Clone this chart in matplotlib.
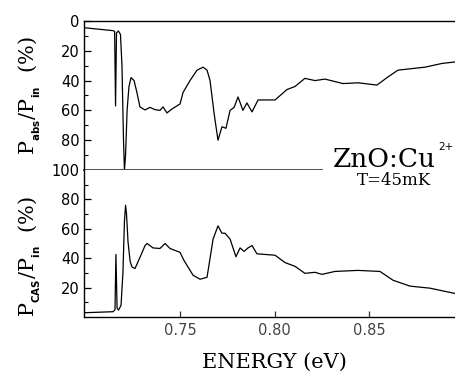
import matplotlib
matplotlib.use('Agg')
import matplotlib.pyplot as plt
from matplotlib.ticker import MultipleLocator

plt.rcParams['mathtext.fontset'] = 'custom'
plt.rcParams['mathtext.rm'] = 'DejaVu Serif'
plt.rcParams['mathtext.bf'] = 'DejaVu Sans:bold'

# absorbed power (top panel, inverted axis)
e_abs = [0.6992, 0.7146, 0.7154, 0.7159, 0.7164, 0.7174, 0.7185, 0.7193, 0.7201,
         0.7206, 0.7212, 0.7220, 0.7230, 0.7241, 0.7257, 0.7272, 0.7288, 0.7315,
         0.7341, 0.7368, 0.7394, 0.7410, 0.7431, 0.7458, 0.7500, 0.7516, 0.7553,
         0.7590, 0.7622, 0.7643, 0.7659, 0.7680, 0.7701, 0.7722, 0.7743, 0.7765,
         0.7786, 0.7807, 0.7833, 0.7854, 0.7881, 0.7913, 0.8003, 0.8066, 0.8108,
         0.8161, 0.8214, 0.8267, 0.8362, 0.8442, 0.8542, 0.8601, 0.8653, 0.8796,
         0.8886, 0.8955]
p_abs = [4.5, 6.5, 7, 57, 8, 6.7, 9, 30, 80,
         100, 90, 60, 44, 38, 40, 48, 57.7, 59.7,
         58, 59.5, 60, 57.7, 61.7, 59, 55.7, 48, 40,
         33, 31, 33, 40, 61.7, 80, 71, 72, 60,
         58, 51, 60, 55, 61, 53, 53, 46, 44,
         38.5, 40, 39, 42, 41.5, 43, 37.5, 33, 31,
         28.5, 27.5]

# CAS signal (bottom panel)
e_cas = [0.6992, 0.7146, 0.7156, 0.7161, 0.7167, 0.7175, 0.7188, 0.7198, 0.7206,
         0.7212, 0.7217, 0.7225, 0.7236, 0.7246, 0.7262, 0.7288, 0.7315, 0.7326,
         0.7357, 0.7394, 0.7421, 0.7447, 0.7500, 0.7521, 0.7569, 0.7606, 0.7643,
         0.7675, 0.7701, 0.7722, 0.7738, 0.7765, 0.7796, 0.7818, 0.7839, 0.7860,
         0.7881, 0.7907, 0.8003, 0.8056, 0.8108, 0.8161, 0.8214, 0.8251, 0.8320,
         0.8442, 0.8558, 0.8627, 0.8717, 0.8823, 0.8955]
p_cas = [2.9, 3.6, 5, 42.5, 6, 4.7, 8, 30, 65,
         76, 70, 51, 38, 34, 33, 40.5, 48.6, 50,
         47, 46.6, 50, 46.6, 44, 38.5, 28.4, 25.7, 27,
         53, 62, 57, 57, 53, 41, 47, 44.6, 47,
         48.6, 43, 42, 37, 34.5, 29.7, 30.4, 29, 31,
         31.7, 31, 25, 21, 19.6, 16]

x_range = (0.6992, 0.8955)

fig = plt.figure(figsize=(4.55, 3.74), dpi=100)
ax1 = fig.add_axes([0.1846, 0.5455, 0.8154, 0.3984])
ax2 = fig.add_axes([0.1846, 0.1524, 0.8154, 0.3931])

ax1.plot(e_abs, p_abs, color='black', lw=0.9)
ax1.set_xlim(*x_range)
ax1.set_ylim(100, 0)
ax1.spines['right'].set_visible(False)
ax1.spines['bottom'].set_visible(False)
# partial line at 100 % (stops before the sample label)
ax1.plot([x_range[0], 0.825], [100, 100], color='#444444', lw=1.3, clip_on=False)
ax1.set_xticks([])
ax1.yaxis.set_major_locator(MultipleLocator(20))
ax1.yaxis.set_minor_locator(MultipleLocator(10))

ax2.plot(e_cas, p_cas, color='black', lw=0.9)
ax2.set_xlim(*x_range)
ax2.set_ylim(0, 100)
ax2.spines['right'].set_visible(False)
ax2.spines['top'].set_visible(False)
ax2.set_xticks([0.75, 0.80, 0.85])
ax2.set_xticklabels(['0.75', '0.80', '0.85'])
ax2.set_yticks([20, 40, 60, 80])
ax2.set_yticks([10, 30, 50, 70, 90], minor=True)

for ax in (ax1, ax2):
    ax.tick_params(which='major', direction='in', length=5, width=0.9, labelsize=10.5, pad=3)
    ax.tick_params(which='minor', direction='in', length=3, width=0.8)
    for s in ax.spines.values():
        s.set_linewidth(1.0)
ax2.tick_params(axis='x', which='major', length=4, colors='#333333', labelcolor='#444444', pad=4)

ax1.set_ylabel(r'$\mathrm{P}_{{}_{\mathbf{abs}}}/\mathrm{P}_{{}_{\mathbf{in}}}$  (%)',
               family='DejaVu Serif', fontsize=15)
ax1.yaxis.set_label_coords(-0.11, 0.5)
ax2.set_ylabel(r'$\mathrm{P}_{{}_{\mathbf{CAS}}}/\mathrm{P}_{{}_{\mathbf{in}}}$  (%)',
               family='DejaVu Serif', fontsize=15)
ax2.yaxis.set_label_coords(-0.11, 0.41)

fig.text(0.603, 0.032, 'ENERGY (eV)', family='DejaVu Serif', fontsize=15,
         ha='center', va='center')
fig.text(0.732, 0.5535, 'ZnO:Cu', family='DejaVu Serif', fontsize=19, va='baseline')
fig.text(0.963, 0.599, '2+', family='DejaVu Sans', fontsize=7.5, va='baseline')
fig.text(0.785, 0.5053, 'T=45mK', family='DejaVu Serif', fontsize=12, va='baseline')

fig.savefig('out.png', dpi=100)
